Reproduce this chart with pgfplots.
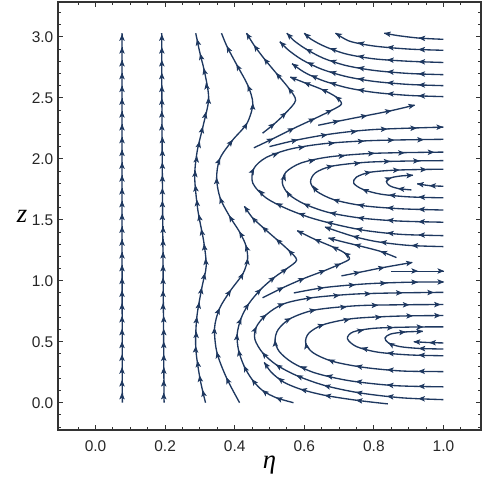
\documentclass[border=0pt]{standalone}
\usepackage{fontspec}
\setmainfont{Liberation Sans}
\newfontfamily\lblfont{Liberation Serif}
\usepackage{pgfplots}
\pgfplotsset{compat=1.18}
\usetikzlibrary{arrows.meta}
\definecolor{sl}{RGB}{30,56,96}
\pgfplotsset{
  stream/.style={color=sl, line width=1pt, smooth, tension=0.5, no markers},
}
% arrow heads: x y and a direction (u,v) taken along the streamline
\pgfplotstableread[row sep=\\]{
x y u v\\
0.076 0.08 0 0.1\\ 0.076 0.185 0 0.1\\ 0.076 0.29 0 0.1\\ 0.076 0.395 0 0.1\\ 0.076 0.50 0 0.1\\
0.076 0.605 0 0.1\\ 0.076 0.71 0 0.1\\ 0.076 0.815 0 0.1\\ 0.076 0.92 0 0.1\\ 0.076 1.025 0 0.1\\
0.076 1.13 0 0.1\\ 0.076 1.235 0 0.1\\ 0.076 1.34 0 0.1\\ 0.076 1.445 0 0.1\\ 0.076 1.55 0 0.1\\
0.076 1.655 0 0.1\\ 0.076 1.76 0 0.1\\ 0.076 1.865 0 0.1\\ 0.076 1.97 0 0.1\\ 0.076 2.075 0 0.1\\
0.076 2.18 0 0.1\\ 0.076 2.285 0 0.1\\ 0.076 2.39 0 0.1\\ 0.076 2.495 0 0.1\\ 0.076 2.60 0 0.1\\
0.076 2.705 0 0.1\\ 0.076 2.81 0 0.1\\ 0.076 2.915 0 0.1\\ 0.076 3.02 0 0.1\\
0.196 0.08 0 0.1\\ 0.196 0.185 0 0.1\\ 0.196 0.29 0 0.1\\ 0.196 0.395 0 0.1\\ 0.196 0.50 0 0.1\\
0.196 0.605 0 0.1\\ 0.196 0.71 0 0.1\\ 0.194 0.815 0 0.1\\ 0.194 0.92 0 0.1\\ 0.194 1.025 0 0.1\\
0.194 1.13 0 0.1\\ 0.194 1.235 0 0.1\\ 0.194 1.34 0 0.1\\ 0.194 1.445 0 0.1\\ 0.192 1.55 0 0.1\\
0.192 1.655 0 0.1\\ 0.192 1.76 0 0.1\\ 0.192 1.865 0 0.1\\ 0.192 1.97 0 0.1\\ 0.192 2.075 0 0.1\\
0.192 2.18 0 0.1\\ 0.1905 2.285 0 0.1\\ 0.1905 2.39 0 0.1\\ 0.1905 2.495 0 0.1\\ 0.1905 2.60 0 0.1\\
0.1905 2.705 0 0.1\\ 0.1905 2.81 0 0.1\\ 0.1905 2.915 0 0.1\\ 0.1905 3.02 0 0.1\\
0.308 0.10 -0.016 0.20\\ 0.299 0.22 -0.012 0.25\\ 0.293 0.34 -0.012 0.25\\ 0.288 0.46 0.003 0.25\\
0.2896 0.58 0.003 0.25\\ 0.291 0.70 0.009 0.25\\ 0.298 0.82 0.015 0.25\\ 0.305 0.94 0.015 0.25\\
0.314 1.06 0.012 0.17\\ 0.316 1.18 -0.007 0.20\\ 0.312 1.30 -0.007 0.20\\ 0.304 1.42 -0.017 0.26\\
0.297 1.54 -0.017 0.26\\ 0.291 1.66 -0.009 0.27\\ 0.287 1.78 -0.009 0.27\\ 0.287 1.90 0.007 0.21\\
0.291 2.02 0.007 0.21\\ 0.299 2.14 0.018 0.22\\ 0.308 2.26 0.018 0.22\\ 0.317 2.38 0.015 0.21\\
0.3245 2.50 0.0 0.20\\ 0.318 2.62 -0.010 0.20\\ 0.311 2.74 -0.016 0.19\\ 0.301 2.86 -0.016 0.19\\
0.292 2.98 -0.011 0.15\\
0.377 0.20 -0.065 0.41\\ 0.349 0.41 -0.035 0.41\\ 0.342 0.61 0.007 0.36\\ 0.356 0.77 0.046 0.31\\
0.388 0.92 0.068 0.29\\ 0.424 1.06 0.049 0.26\\ 0.437 1.18 0.008 0.23\\ 0.432 1.29 -0.023 0.22\\
0.414 1.40 -0.047 0.24\\ 0.385 1.53 -0.056 0.28\\ 0.358 1.68 -0.037 0.31\\ 0.348 1.84 -0.001 0.32\\
0.357 2.00 0.045 0.31\\ 0.393 2.15 0.078 0.29\\ 0.435 2.29 0.059 0.30\\ 0.452 2.45 0.003 0.31\\
0.438 2.60 -0.046 0.32\\ 0.406 2.77 -0.060 0.32\\ 0.378 2.92 -0.044 0.26\\
0.52 0.04 -0.089 0.10\\ 0.48 0.10 -0.07 0.15\\ 0.450 0.19 -0.053 0.20\\ 0.427 0.30 -0.039 0.24\\
0.411 0.43 -0.02 0.26\\ 0.407 0.56 0.007 0.26\\ 0.418 0.69 0.033 0.25\\ 0.440 0.81 0.057 0.24\\
0.475 0.93 0.075 0.22\\ 0.515 1.03 0.075 0.17\\ 0.55 1.10 0.063 0.14\\ 0.555 1.25 -0.058 0.17\\
0.52 1.34 -0.075 0.19\\ 0.48 1.44 -0.07 0.18\\ 0.45 1.52 -0.052 0.17\\ 0.428 1.61 -0.022 0.09\\
0.54 0.945 0.06 0.085\\ 0.60 1.02 0.06 0.075\\ 0.66 1.085 0.06 0.065\\ 0.705 1.14 0.045 0.055\\
0.715 1.23 -0.05 0.10\\ 0.68 1.28 -0.035 0.05\\ 0.63 1.34 -0.05 0.06\\ 0.58 1.41 -0.05 0.07\\
0.76 1.07 0.053 0.03\\ 0.83 1.11 0.07 0.04\\ 0.91 1.15 0.08 0.04\\
0.925 1.08 0.1 0\\ 1.0 1.08 0.1 0\\
0.655 0.943 0.1 0.035\\ 0.745 0.967 0.1 0.025\\ 0.835 0.981 0.1 0.011\\ 0.925 0.9885 0.1 0.004\\ 1.0 0.99 0.1 0.001\\
0.82 1.24 -0.05 0.05\\ 0.745 1.296 -0.06 0.04\\ 0.67 1.35 -0.04 0.03\\
0.91 1.289 -0.1 0.01\\ 0.82 1.317 -0.09 0.03\\ 0.74 1.365 -0.07 0.045\\ 0.66 1.44 -0.08 0.075\\
0.75 0.02 -0.09 0.03\\ 0.66 0.06 -0.09 0.04\\ 0.59 0.11 -0.07 0.05\\ 0.525 0.204 -0.035 0.08\\ 0.485 0.33 -0.02 0.08\\
0.93 0.034 -0.12 0.015\\ 0.84 0.053 -0.12 0.04\\ 0.75 0.086 -0.10 0.06\\ 0.66 0.14 -0.18 0.14\\
0.58 0.22 -0.14 0.17\\ 0.52 0.31 -0.10 0.19\\ 0.48 0.41 -0.062 0.21\\ 0.462 0.62 0.032 0.20\\
0.49 0.72 0.078 0.19\\ 0.54 0.81 0.13 0.14\\ 0.62 0.86 0.2 0.08\\ 0.70 0.88 0.12 0.03\\
0.79 0.894 0.12 0.01\\ 0.88 0.901 0.14 0.005\\ 0.97 0.904 0.14 0.005\\
0.93 0.135 -0.14 0.01\\ 0.84 0.146 -0.13 0.04\\ 0.75 0.174 -0.13 0.04\\ 0.665 0.222 -0.10 0.065\\
0.59 0.297 -0.065 0.085\\ 0.516 0.51 -0.003 0.18\\ 0.56 0.69 0.105 0.16\\ 0.63 0.76 0.19 0.105\\
0.72 0.786 0.12 0.035\\ 0.81 0.799 0.13 0.008\\ 0.90 0.803 0.12 0.002\\ 0.99 0.805 0.12 0.001\\
0.93 0.258 -0.12 0.005\\ 0.84 0.271 -0.11 0.03\\ 0.75 0.301 -0.09 0.05\\ 0.67 0.353 -0.055 0.07\\
0.604 0.49 -0.012 0.16\\ 0.655 0.64 0.127 0.12\\ 0.73 0.684 0.085 0.05\\ 0.82 0.702 0.13 0.02\\
0.91 0.712 0.13 0.005\\ 0.99 0.715 0.13 0.005\\
0.93 0.39 -0.10 0.007\\ 0.84 0.407 -0.09 0.023\\ 0.765 0.449 -0.06 0.045\\ 0.77 0.595 0.06 0.03\\
0.855 0.616 0.10 0.01\\ 0.94 0.621 0.10 0.002\\
0.93 0.445 -0.07 0.005\\ 0.842 0.49 -0.043 0.07\\ 0.89 0.58 0.092 0.022\\ 0.94 0.585 0.05 0.005\\
0.96 0.493 -0.04 0.003\\ 0.915 0.50 -0.045 0.007\\
0.93 1.376 -0.12 0.01\\ 0.84 1.392 -0.10 0.03\\ 0.75 1.427 -0.08 0.045\\ 0.665 1.481 -0.08 0.06\\
0.585 1.553 -0.07 0.075\\ 0.52 1.635 -0.06 0.09\\ 0.47 1.743 -0.038 0.12\\ 0.455 1.92 0.038 0.21\\
0.525 2.045 0.07 0.07\\ 0.60 2.098 0.10 0.045\\ 0.685 2.129 0.14 0.025\\ 0.77 2.145 0.14 0.025\\
0.855 2.153 0.20 0.01\\ 0.94 2.157 0.20 0.01\\
0.93 1.485 -0.13 0.01\\ 0.84 1.497 -0.11 0.025\\ 0.755 1.518 -0.09 0.045\\ 0.675 1.557 -0.09 0.045\\
0.60 1.63 -0.115 0.15\\ 0.55 1.735 -0.018 0.09\\ 0.545 1.872 0.01 0.09\\ 0.63 1.99 0.08 0.05\\
0.715 2.025 0.13 0.03\\ 0.80 2.045 0.13 0.02\\ 0.885 2.049 0.20 0.01\\ 0.97 2.054 0.20 0.005\\
0.93 1.586 -0.12 0.01\\ 0.84 1.599 -0.11 0.025\\ 0.755 1.624 -0.085 0.05\\ 0.685 1.665 -0.135 0.12\\
0.625 1.779 -0.017 0.075\\ 0.68 1.94 0.148 0.087\\ 0.76 1.966 0.10 0.032\\ 0.845 1.979 0.12 0.01\\
0.93 1.983 0.10 0.003\\
0.93 1.686 -0.10 0.008\\ 0.845 1.703 -0.08 0.022\\ 0.768 1.75 -0.078 0.09\\ 0.79 1.89 0.12 0.058\\
0.87 1.908 0.21 0.025\\ 0.95 1.912 0.13 0.007\\
0.87 1.756 -0.06 0.02\\ 0.85 1.845 0.044 0.045\\ 0.912 1.865 0.032 0.005\\
0.96 1.78 -0.04 0.005\\ 0.925 1.795 -0.035 0.015\\
0.58 2.155 0.08 0.055\\ 0.665 2.198 0.10 0.05\\ 0.75 2.225 0.12 0.035\\ 0.835 2.244 0.20 0.02\\
0.92 2.252 0.20 0.02\\ 0.995 2.26 0.20 0.01\\
0.51 2.165 0.055 0.075\\ 0.57 2.25 0.06 0.085\\ 0.63 2.33 0.06 0.08\\ 0.68 2.40 0.05 0.07\\
0.69 2.51 -0.057 0.12\\ 0.65 2.57 -0.09 0.115\\ 0.60 2.625 -0.05 0.055\\ 0.56 2.67 -0.04 0.045\\
0.70 2.31 0.06 0.035\\ 0.78 2.355 0.08 0.045\\ 0.85 2.395 0.07 0.04\\ 0.917 2.44 0.067 0.045\\
0.515 2.29 0.035 0.08\\ 0.548 2.38 0.033 0.09\\ 0.555 2.58 -0.055 0.22\\ 0.52 2.70 -0.07 0.24\\
0.485 2.82 -0.064 0.23\\ 0.456 2.93 -0.051 0.21\\ 0.434 3.03 -0.022 0.10\\
0.93 2.517 -0.1 0.01\\ 0.84 2.535 -0.1 0.025\\ 0.755 2.5675 -0.08 0.04\\ 0.675 2.624 -0.07 0.06\\
0.62 2.684 -0.05 0.065\\ 0.565 2.78 -0.035 0.07\\
0.93 2.607 -0.1 0.01\\ 0.84 2.625 -0.1 0.025\\ 0.755 2.6575 -0.08 0.04\\ 0.675 2.714 -0.07 0.06\\
0.61 2.79 -0.055 0.075\\ 0.53 2.96 -0.025 0.07\\
0.93 2.697 -0.1 0.01\\ 0.84 2.715 -0.1 0.025\\ 0.755 2.7475 -0.08 0.04\\ 0.675 2.807 -0.065 0.06\\
0.605 2.90 -0.05 0.075\\ 0.55 3.03 -0.02 0.06\\
0.93 2.797 -0.1 0.01\\ 0.84 2.812 -0.1 0.02\\ 0.755 2.8425 -0.08 0.04\\ 0.675 2.905 -0.06 0.06\\
0.60 3.03 -0.02 0.05\\
0.93 2.897 -0.1 0.01\\ 0.84 2.915 -0.1 0.025\\ 0.755 2.951 -0.07 0.04\\ 0.69 3.03 -0.04 0.065\\
0.93 2.99 -0.07 0.01\\ 0.83 3.03 -0.04 0.02\\
}\arrowtab
\begin{document}
\begin{tikzpicture}
\begin{axis}[name=ax, scale only axis, width=317.25pt, height=321pt,
  xmin=-0.108, xmax=1.108, ymin=-0.224, ymax=3.286,
  axis line style={line width=0.9pt, black!80},
  tick align=inside, major tick length=4pt, minor tick length=2.4pt,
  tick style={line width=0.7pt, black!80},
  xtick={0,0.2,...,1.0}, ytick={0,0.5,...,3.0},
  minor xtick={-0.05,0,...,1.05},
  minor ytick={-0.2,-0.1,...,3.2},
  /pgf/number format/assume math mode=true,
  tick label style={font=\fontsize{11.6}{13}\selectfont, black!85,
    /pgf/number format/fixed, /pgf/number format/fixed zerofill,
    /pgf/number format/precision=1},
  x tick label style={yshift=-4.2pt},
]
% left, slow upward lines
\addplot[stream] coordinates {(0.077,0) (0.076,1.5) (0.076,3.03)};
\addplot[stream] coordinates {(0.197,0) (0.195,0.75) (0.193,1.5) (0.191,2.25) (0.190,3.03)};
\addplot[stream] coordinates {(0.316,0) (0.300,0.20) (0.288,0.45) (0.291,0.70) (0.306,0.95) (0.318,1.12) (0.311,1.32) (0.294,1.58) (0.285,1.85) (0.292,2.06) (0.310,2.28) (0.325,2.49) (0.315,2.69) (0.299,2.88) (0.288,3.03)};
\addplot[stream] coordinates {(0.414,0) (0.377,0.20) (0.349,0.41) (0.342,0.61) (0.356,0.77) (0.388,0.92) (0.424,1.06) (0.437,1.18) (0.432,1.29) (0.414,1.40) (0.385,1.53) (0.358,1.68) (0.348,1.84) (0.357,2.00) (0.393,2.15) (0.435,2.29) (0.452,2.45) (0.438,2.60) (0.406,2.77) (0.378,2.92) (0.362,3.03)};
% lower cusp lines
\addplot[stream] coordinates {(0.569,0) (0.52,0.04) (0.48,0.10) (0.450,0.19) (0.427,0.30) (0.411,0.43) (0.407,0.56) (0.418,0.69) (0.440,0.81) (0.475,0.93) (0.515,1.03) (0.55,1.10) (0.578,1.17) (0.555,1.25) (0.52,1.34) (0.48,1.44) (0.45,1.52) (0.428,1.61)};
\addplot[stream] coordinates {(0.48,0.86) (0.54,0.945) (0.60,1.02) (0.66,1.085) (0.705,1.14) (0.73,1.18) (0.715,1.23) (0.68,1.28) (0.63,1.34) (0.58,1.41)};
\addplot[stream] coordinates {(0.707,1.04) (0.76,1.07) (0.83,1.11) (0.91,1.15)};
\addplot[stream] coordinates {(0.85,1.078) (0.93,1.078) (1.0,1.078)};
\addplot[stream] coordinates {(0.57,0.90) (0.66,0.945) (0.78,0.975) (0.90,0.988) (1.0,0.99)};
\addplot[stream] coordinates {(0.865,1.19) (0.82,1.24) (0.76,1.285) (0.71,1.32) (0.67,1.35)};
\addplot[stream] coordinates {(1.0,1.28) (0.90,1.29) (0.81,1.32) (0.74,1.365) (0.66,1.44)};
% lower vortex
\addplot[stream] coordinates {(0.84,-0.01) (0.75,0.02) (0.66,0.06) (0.59,0.11) (0.54,0.17) (0.505,0.25) (0.485,0.33)};
\addplot[stream] coordinates {(1.0,0.025) (0.88,0.04) (0.76,0.08) (0.66,0.14) (0.58,0.22) (0.52,0.31) (0.48,0.41) (0.458,0.52) (0.462,0.62) (0.49,0.72) (0.54,0.81) (0.62,0.86) (0.74,0.89) (0.86,0.90) (1.0,0.905)};
\addplot[stream] coordinates {(1.0,0.13) (0.86,0.14) (0.73,0.18) (0.63,0.245) (0.565,0.33) (0.528,0.42) (0.516,0.51) (0.525,0.60) (0.56,0.69) (0.63,0.76) (0.75,0.795) (0.88,0.803) (1.0,0.805)};
\addplot[stream] coordinates {(1.0,0.255) (0.88,0.26) (0.77,0.29) (0.68,0.34) (0.625,0.41) (0.604,0.49) (0.613,0.57) (0.655,0.64) (0.74,0.69) (0.87,0.71) (1.0,0.715)};
\addplot[stream] coordinates {(1.0,0.385) (0.90,0.392) (0.81,0.415) (0.75,0.46) (0.724,0.525) (0.74,0.58) (0.80,0.61) (0.90,0.62) (1.0,0.622)};
\addplot[stream] coordinates {(1.0,0.44) (0.93,0.445) (0.875,0.46) (0.842,0.49) (0.832,0.53) (0.848,0.563) (0.89,0.58) (0.94,0.585)};
\addplot[stream] coordinates {(1.0,0.49) (0.96,0.493) (0.915,0.50)};
% upper vortex
\addplot[stream] coordinates {(1.0,1.37) (0.88,1.38) (0.78,1.41) (0.70,1.455) (0.62,1.515) (0.55,1.59) (0.49,1.68) (0.452,1.80) (0.455,1.92) (0.49,2.01) (0.56,2.08) (0.66,2.125) (0.80,2.15) (1.0,2.16)};
\addplot[stream] coordinates {(1.0,1.48) (0.87,1.49) (0.76,1.515) (0.67,1.56) (0.60,1.63) (0.555,1.71) (0.537,1.80) (0.547,1.89) (0.59,1.965) (0.67,2.015) (0.80,2.045) (1.0,2.055)};
\addplot[stream] coordinates {(1.0,1.58) (0.88,1.59) (0.77,1.615) (0.685,1.665) (0.635,1.735) (0.618,1.81) (0.632,1.885) (0.68,1.94) (0.78,1.972) (0.90,1.982) (1.0,1.985)};
\addplot[stream] coordinates {(1.0,1.68) (0.90,1.688) (0.82,1.71) (0.768,1.75) (0.742,1.80) (0.75,1.85) (0.79,1.89) (0.87,1.908) (1.0,1.915)};
\addplot[stream] coordinates {(0.908,1.745) (0.87,1.756) (0.845,1.78) (0.836,1.815) (0.85,1.845) (0.88,1.86) (0.912,1.865)};
\addplot[stream] coordinates {(1.0,1.775) (0.96,1.78) (0.925,1.795)};
% upper cusp lines
\addplot[stream] coordinates {(0.50,2.10) (0.58,2.155) (0.68,2.205) (0.80,2.24) (1.0,2.26)};
\addplot[stream] coordinates {(0.455,2.09) (0.51,2.165) (0.57,2.25) (0.63,2.33) (0.68,2.40) (0.707,2.45) (0.69,2.51) (0.65,2.57) (0.60,2.625) (0.56,2.67)};
\addplot[stream] coordinates {(0.64,2.275) (0.70,2.31) (0.78,2.355) (0.85,2.395) (0.917,2.44)};
\addplot[stream] coordinates {(0.48,2.21) (0.515,2.29) (0.548,2.38) (0.575,2.48) (0.555,2.58) (0.52,2.70) (0.485,2.82) (0.456,2.93) (0.434,3.03)};
% top lines
\addplot[stream] coordinates {(1.0,2.51) (0.90,2.52) (0.80,2.545) (0.72,2.585) (0.65,2.645) (0.60,2.71) (0.565,2.78)};
\addplot[stream] coordinates {(1.0,2.60) (0.90,2.61) (0.80,2.635) (0.72,2.675) (0.65,2.735) (0.595,2.81) (0.555,2.89) (0.53,2.96)};
\addplot[stream] coordinates {(1.0,2.69) (0.90,2.70) (0.80,2.725) (0.72,2.765) (0.655,2.825) (0.605,2.90) (0.57,2.97) (0.55,3.03)};
\addplot[stream] coordinates {(1.0,2.79) (0.90,2.80) (0.80,2.82) (0.72,2.86) (0.66,2.92) (0.62,2.98) (0.60,3.03)};
\addplot[stream] coordinates {(1.0,2.89) (0.90,2.90) (0.80,2.925) (0.73,2.965) (0.69,3.03)};
\addplot[stream] coordinates {(1.0,2.98) (0.93,2.99) (0.87,3.01) (0.83,3.03)};
% arrow heads along the streamlines
\addplot[color=sl, line width=0.6pt, -{Stealth[length=5pt,width=4.1pt,inset=1.2pt]},
  quiver={u=\thisrow{u}, v=\thisrow{v}, scale arrows=0.02}] table {\arrowtab};
\end{axis}
\node[font=\lblfont\itshape\fontsize{20}{24}\selectfont] at ([xshift=-27pt]ax.west) {z};
\node[font=\lblfont\itshape\fontsize{20}{24}\selectfont] at ([yshift=-26.25pt]ax.south) {η};
\pgfresetboundingbox
\path[use as bounding box] ([xshift=-43.5pt,yshift=-39.75pt]ax.south west) rectangle ([xshift=2.25pt,yshift=1.5pt]ax.north east);
\end{tikzpicture}
\end{document}
